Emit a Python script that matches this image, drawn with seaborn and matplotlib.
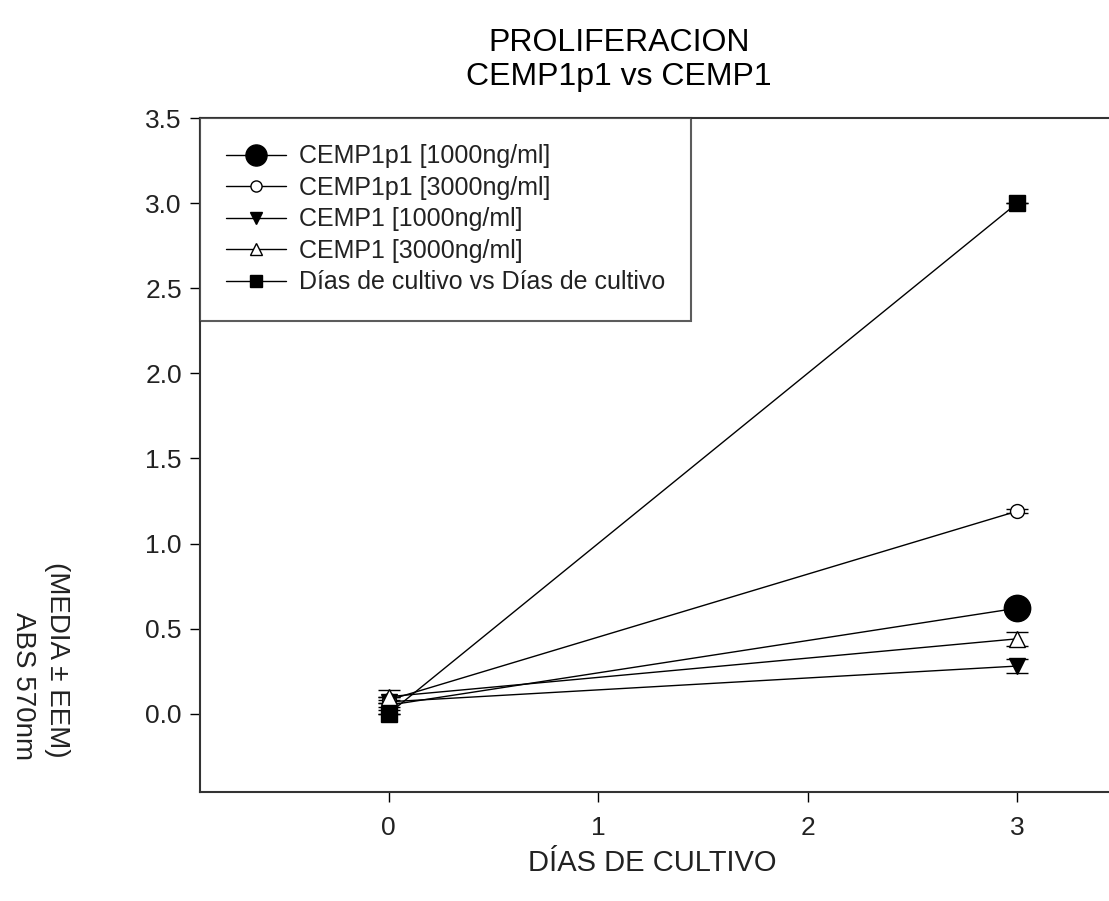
import matplotlib
matplotlib.use("Agg")
import matplotlib.pyplot as plt
import seaborn as sns
import pandas as pd

sns.set_theme(style="white")
plt.rcParams['font.family'] = ['Liberation Sans', 'DejaVu Sans']

# ---- data ----
days = [0, 3]
series_names = ["CEMP1p1 [1000ng/ml]", "CEMP1p1 [3000ng/ml]", "CEMP1 [1000ng/ml]",
                "CEMP1 [3000ng/ml]", "Días de cultivo vs Días de cultivo"]
cemp1p1_1000 = [0.05, 0.62]
cemp1p1_3000 = [0.08, 1.19]
cemp1_1000 = [0.07, 0.28]
cemp1_3000 = [0.10, 0.44]
dias_cultivo = [0.00, 3.00]
err_cemp1p1_1000 = [0.03, 0.03]
err_cemp1p1_3000 = [0.02, 0.01]
err_cemp1_1000 = [0.03, 0.04]
err_cemp1_3000 = [0.04, 0.04]
err_dias = [0.0, 0.0]

values = [cemp1p1_1000, cemp1p1_3000, cemp1_1000, cemp1_3000, dias_cultivo]
errors = [err_cemp1p1_1000, err_cemp1p1_3000, err_cemp1_1000, err_cemp1_3000, err_dias]

rows = []
for name, vals, errs in zip(series_names, values, errors):
    for d, v, e in zip(days, vals, errs):
        rows.append({"serie": name, "dia": d, "abs": v, "err": e})
df = pd.DataFrame(rows)

styles = {
    series_names[0]: dict(marker="o", ms=19, mfc="black", every=[1]),
    series_names[1]: dict(marker="o", ms=10, mfc="white", every=None),
    series_names[2]: dict(marker="v", ms=11, mfc="black", every=None),
    series_names[3]: dict(marker="^", ms=11, mfc="white", every=None),
    series_names[4]: dict(marker="s", ms=11, mfc="black", every=None),
}

fig = plt.figure(figsize=(11.09, 9.01), dpi=100)
ax = fig.add_axes([200/1109, 1-792/901, (1122-200)/1109, (792-118)/901])

for name in series_names:
    sub = df[df["serie"] == name]
    st = styles[name]
    ax.errorbar(sub["dia"], sub["abs"], yerr=sub["err"], fmt="none",
                ecolor="black", elinewidth=1, capsize=8, capthick=1, zorder=2)
    sns.lineplot(data=sub, x="dia", y="abs", ax=ax, color="black", lw=1,
                 marker=st["marker"], markersize=st["ms"], markevery=st["every"],
                 markerfacecolor=st["mfc"], markeredgecolor="black",
                 markeredgewidth=1, label=name, zorder=3, errorbar=None)

ax.set_xlim(-0.9, 3.5)
ax.set_ylim(-0.46, 3.5)
ax.set_xticks([0, 1, 2, 3])
yt = [0.0, 0.5, 1.0, 1.5, 2.0, 2.5, 3.0, 3.5]
ax.set_yticks(yt)
ax.set_yticklabels([f"{v:.1f}" for v in yt])
ax.tick_params(axis="both", direction="out", length=7, width=1, color="black",
               labelsize=19, labelcolor="#222222", bottom=True, left=True)
ax.tick_params(axis="x", pad=10)
ax.tick_params(axis="y", pad=6)
for sp in ax.spines.values():
    sp.set_color("#333333")
    sp.set_linewidth(1.5)

ax.set_xlabel("DÍAS DE CULTIVO", fontsize=21, color="#222222", labelpad=12)
ax.xaxis.set_label_coords((652-200)/922, -0.085)
ax.set_ylabel("")

fig.text(57/1109, 1-660/901, "(MEDIA ± EEM)", rotation=-90, ha="center", va="center",
         fontsize=20, color="#222222")
fig.text(23/1109, 1-686/901, "ABS 570nm", rotation=-90, ha="center", va="center",
         fontsize=20, color="#222222")

fig.text(0.558, 1-51/901, "PROLIFERACION", ha="center", va="baseline", fontsize=23, color="black")
fig.text(0.558, 1-85/901, "CEMP1p1 vs CEMP1", ha="center", va="baseline", fontsize=23, color="black")

leg = ax.legend(loc="upper left", bbox_to_anchor=(0, 1), borderaxespad=0,
                fontsize=18, frameon=True, fancybox=False, handlelength=2.4,
                handletextpad=0.5, labelspacing=0.3, borderpad=1.05, markerscale=0.8)
leg.get_frame().set_edgecolor("#333333")
leg.get_frame().set_linewidth(1.5)
for t in leg.get_texts():
    t.set_color("#222222")

fig.savefig("out.png", dpi=100)
